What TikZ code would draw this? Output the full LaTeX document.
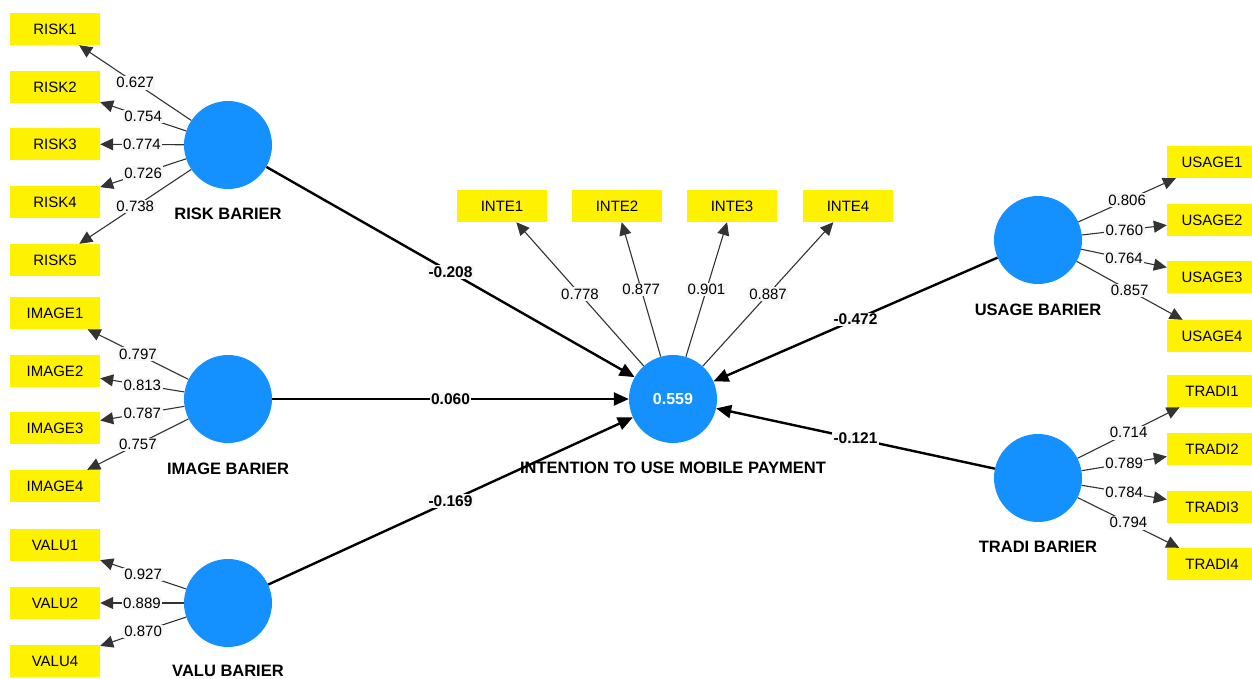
\documentclass[tikz,border=0pt]{standalone}
\usepackage{fontspec}
\setmainfont{Liberation Sans}
\usetikzlibrary{arrows.meta}
\definecolor{lvblue}{RGB}{20,145,255}
\definecolor{lblbg}{RGB}{247,247,247}
\begin{document}
\begin{tikzpicture}[x=1pt,y=-1pt,
  lv/.style={circle, fill=lvblue, minimum size=88pt, inner sep=0pt},
  ind/.style={rectangle, fill=yellow, minimum width=90pt, minimum height=32pt, inner sep=0pt, font=\fontsize{15}{18}\selectfont},
  lvname/.style={font=\bfseries\fontsize{16.5}{19}\selectfont},
  load/.style={draw=black!80, line width=1.1pt, -{Triangle[length=13pt,width=12pt]}},
  pth/.style={draw=black, line width=2.4pt, -{Triangle[length=15pt,width=13pt]}},
  wl/.style={fill=lblbg, inner sep=1.5pt, font=\fontsize{15}{18}\selectfont},
  pl/.style={fill=lblbg, inner sep=1.5pt, font=\bfseries\fontsize{15.5}{18}\selectfont}]
\useasboundingbox (0,0) rectangle (1252,678);
\fill[white] (0,0) rectangle (1252,678);

% latent variables
\node[lv] (risk) at (228,145) {};
\node[lv] (image) at (228,399) {};
\node[lv] (valu) at (228,603) {};
\node[lv] (inte) at (673,399) {\color{white}\bfseries\fontsize{16}{19}\selectfont 0.559};
\node[lv] (usage) at (1038,240) {};
\node[lv] (tradi) at (1038,478) {};

\node[lvname] (riskL) at (228,214) {RISK BARIER};
\node[lvname] (imageL) at (228,469) {IMAGE BARIER};
\node[lvname] (valuL) at (228,671) {VALU BARIER};
\node[lvname] (inteL) at (673,468) {INTENTION TO USE MOBILE PAYMENT};
\node[lvname] (usageL) at (1038,310) {USAGE BARIER};
\node[lvname] (tradiL) at (1038,547) {TRADI BARIER};

% indicators
\node[ind] (risk1) at (55,29) {RISK1};
\node[ind] (risk2) at (55,87) {RISK2};
\node[ind] (risk3) at (55,144) {RISK3};
\node[ind] (risk4) at (55,202) {RISK4};
\node[ind] (risk5) at (55,260) {RISK5};

\node[ind] (image1) at (55,313) {IMAGE1};
\node[ind] (image2) at (55,371) {IMAGE2};
\node[ind] (image3) at (55,428) {IMAGE3};
\node[ind] (image4) at (55,486) {IMAGE4};

\node[ind] (valu1) at (55,545) {VALU1};
\node[ind] (valu2) at (55,603) {VALU2};
\node[ind] (valu4) at (55,661) {VALU4};

\node[ind] (inte1) at (502,206) {INTE1};
\node[ind] (inte2) at (617,206) {INTE2};
\node[ind] (inte3) at (732,206) {INTE3};
\node[ind] (inte4) at (848,206) {INTE4};

\node[ind] (usage1) at (1212,162) {USAGE1};
\node[ind] (usage2) at (1212,220) {USAGE2};
\node[ind] (usage3) at (1212,277) {USAGE3};
\node[ind] (usage4) at (1212,336) {USAGE4};

\node[ind] (tradi1) at (1212,391) {TRADI1};
\node[ind] (tradi2) at (1212,449) {TRADI2};
\node[ind] (tradi3) at (1212,507) {TRADI3};
\node[ind] (tradi4) at (1212,564) {TRADI4};

% structural paths
\draw[pth] (risk) -- node[pl] {-0.208} (inte);
\draw[pth] (image) -- node[pl] {0.060} (inte);
\draw[pth] (valu) -- node[pl] {-0.169} (inte);
\draw[pth] (usage) -- node[pl] {-0.472} (inte);
\draw[pth] (tradi) -- node[pl] {-0.121} (inte);

% loadings
\draw[load] (risk) -- node[wl] {0.627} (risk1);
\draw[load] (risk) -- node[wl] {0.754} (risk2);
\draw[load] (risk) -- node[wl] {0.774} (risk3);
\draw[load] (risk) -- node[wl] {0.726} (risk4);
\draw[load] (risk) -- node[wl] {0.738} (risk5);

\draw[load] (image) -- node[wl] {0.797} (image1);
\draw[load] (image) -- node[wl] {0.813} (image2);
\draw[load] (image) -- node[wl] {0.787} (image3);
\draw[load] (image) -- node[wl] {0.757} (image4);

\draw[load] (valu) -- node[wl] {0.927} (valu1);
\draw[load] (valu) -- node[wl] {0.889} (valu2);
\draw[load] (valu) -- node[wl] {0.870} (valu4);

\draw[load] (inte) -- node[wl] {0.778} (inte1);
\draw[load] (inte) -- node[wl] {0.877} (inte2);
\draw[load] (inte) -- node[wl] {0.901} (inte3);
\draw[load] (inte) -- node[wl] {0.887} (inte4);

\draw[load] (usage) -- node[wl] {0.806} (usage1);
\draw[load] (usage) -- node[wl] {0.760} (usage2);
\draw[load] (usage) -- node[wl] {0.764} (usage3);
\draw[load] (usage) -- node[wl] {0.857} (usage4);

\draw[load] (tradi) -- node[wl] {0.714} (tradi1);
\draw[load] (tradi) -- node[wl] {0.789} (tradi2);
\draw[load] (tradi) -- node[wl] {0.784} (tradi3);
\draw[load] (tradi) -- node[wl] {0.794} (tradi4);
\end{tikzpicture}
\end{document}
